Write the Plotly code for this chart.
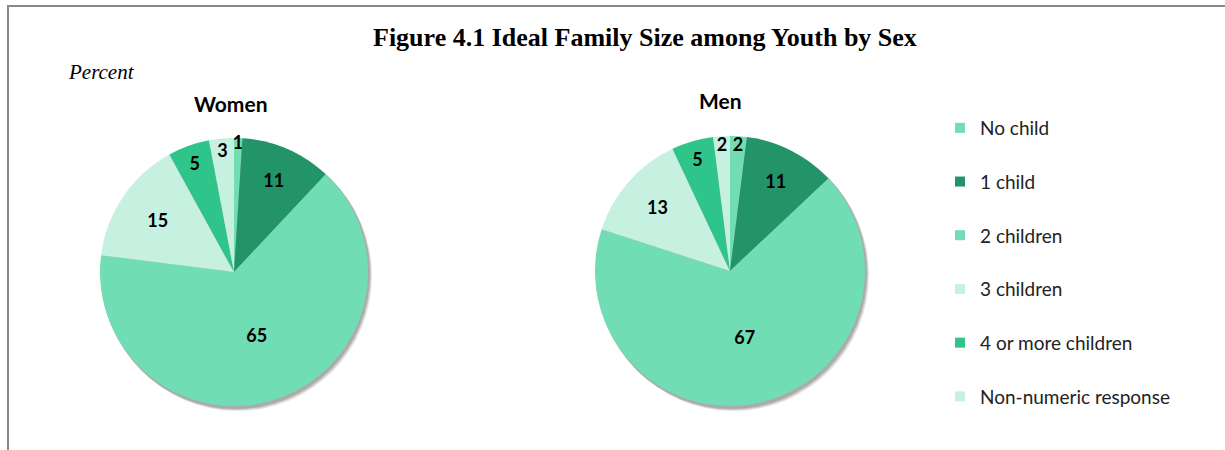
import plotly.graph_objects as go

categories = ["No child", "1 child", "2 children", "3 children", "4 or more children", "Non-numeric response"]
women = [1, 11, 65, 15, 5, 3]
men = [2, 11, 67, 13, 5, 2]
colors = ["#70DDB4", "#229468", "#70DDB4", "#C6F0E0", "#2EC48A", "#C6F0E0"]

W, H = 1225, 450
SANS = "Lato, Open Sans, sans-serif"
SERIF = "Liberation Serif, Times New Roman, serif"

fig = go.Figure()

def dom(cx, cy, r):
    return dict(x=[(cx - r) / W, (cx + r) / W], y=[1 - (cy + r) / H, 1 - (cy - r) / H])

pies = [("Women", women, (234, 272, 134)), ("Men", men, (730, 271, 135))]
shapes = []
for name, vals, (cx, cy, r) in pies:
    # soft shadow
    for k, op in [(5, 0.10), (4, 0.12), (3, 0.15)]:
        shapes.append(dict(type="circle", xref="paper", yref="paper", layer="below",
                           x0=(cx - r + k - 2) / W, x1=(cx + r + k - 1) / W,
                           y0=1 - (cy + r + k) / H, y1=1 - (cy - r + k - 2) / H,
                           fillcolor=f"rgba(0,0,0,{op})", line=dict(width=0)))
    fig.add_trace(go.Pie(
        labels=categories, values=vals, name=name,
        marker=dict(colors=colors, line=dict(width=0)),
        sort=False, direction="clockwise", rotation=0,
        textinfo="value", textposition="inside", insidetextorientation="horizontal",
        textfont=dict(family=SANS, size=18, color="black", weight="bold"),
        domain=dom(cx, cy, r), showlegend=False, hoverinfo="label+value",
    ))

# legend entries
for cat, col in zip(categories, colors):
    fig.add_trace(go.Scatter(x=[None], y=[None], mode="markers", name=cat, legendgroup=cat,
                             marker=dict(symbol="square", size=10, color=col), showlegend=True))

# frame
shapes.append(dict(type="line", xref="paper", yref="paper", layer="above",
                   x0=7 / W, x1=1.0, y0=1 - 6 / H, y1=1 - 6 / H,
                   line=dict(color="#8a8a8a", width=2)))
shapes.append(dict(type="line", xref="paper", yref="paper", layer="above",
                   x0=8 / W, x1=8 / W, y0=0.0, y1=1 - 5 / H,
                   line=dict(color="#8a8a8a", width=2)))

annotations = [
    dict(text="<b>Figure 4.1 Ideal Family Size among Youth by Sex</b>", x=645 / W, y=1 - 38 / H,
         xref="paper", yref="paper", showarrow=False, xanchor="center", yanchor="middle",
         font=dict(family=SERIF, size=26, color="black")),
    dict(text="<i>Percent</i>", x=66 / W, y=1 - 72 / H, xref="paper", yref="paper", showarrow=False,
         xanchor="left", yanchor="middle", font=dict(family=SERIF, size=21, color="black")),
    dict(text="<b>Women</b>", x=231 / W, y=1 - 104 / H, xref="paper", yref="paper", showarrow=False,
         xanchor="center", yanchor="middle", font=dict(family=SANS, size=21, color="black")),
    dict(text="<b>Men</b>", x=721 / W, y=1 - 100 / H, xref="paper", yref="paper", showarrow=False,
         xanchor="center", yanchor="middle", font=dict(family=SANS, size=21, color="black")),
]

fig.update_layout(
    width=W, height=H, margin=dict(l=0, r=0, t=0, b=0),
    paper_bgcolor="white", plot_bgcolor="white",
    xaxis=dict(visible=False), yaxis=dict(visible=False),
    shapes=shapes, annotations=annotations,
    legend=dict(x=940 / W, y=1 - 109 / H, xanchor="left", yanchor="top",
                font=dict(family=SANS, size=19, color="#222"),
                tracegroupgap=26, traceorder="grouped", bgcolor="rgba(0,0,0,0)"),
    uniformtext=dict(minsize=18, mode="show"),
    showlegend=True,
)

fig.write_html("out.html", config={"displayModeBar": False})
with open("out.html", "r", encoding="utf-8") as f:
    html = f.read()
html = html.replace("<head>", "<head><style>html,body{margin:0;padding:0;overflow:hidden;}</style>", 1)
with open("out.html", "w", encoding="utf-8") as f:
    f.write(html)
